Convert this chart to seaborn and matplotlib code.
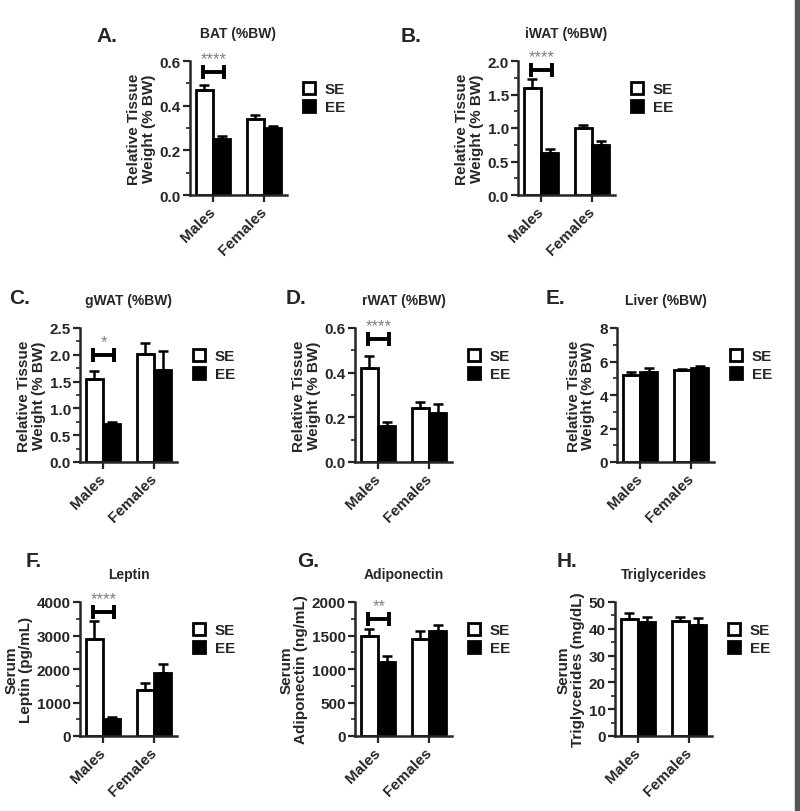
import numpy as np
import matplotlib
matplotlib.use("Agg")
import matplotlib.pyplot as plt
from matplotlib.lines import Line2D
from matplotlib.patches import Rectangle
from matplotlib.ticker import MultipleLocator
import seaborn as sns
import pandas as pd

sexes = ["Males", "Females"]
housing = ["SE", "EE"]

# group means (Males, Females) and SEM
bat_se, bat_ee = [0.47, 0.34], [0.25, 0.30]
bat_se_sem, bat_ee_sem = [0.022, 0.016], [0.016, 0.011]

iwat_se, iwat_ee = [1.60, 1.00], [0.62, 0.74]
iwat_se_sem, iwat_ee_sem = [0.13, 0.05], [0.06, 0.07]

gwat_se, gwat_ee = [1.55, 2.02], [0.70, 1.72]
gwat_se_sem, gwat_ee_sem = [0.15, 0.20], [0.04, 0.35]

rwat_se, rwat_ee = [0.42, 0.24], [0.16, 0.22]
rwat_se_sem, rwat_ee_sem = [0.055, 0.03], [0.018, 0.04]

liver_se, liver_ee = [5.2, 5.5], [5.4, 5.6]
liver_se_sem, liver_ee_sem = [0.2, 0.07], [0.2, 0.15]

leptin_se, leptin_ee = [2900, 1380], [500, 1880]
leptin_se_sem, leptin_ee_sem = [540, 190], [80, 270]

adipo_se, adipo_ee = [1500, 1450], [1100, 1560]
adipo_se_sem, adipo_ee_sem = [100, 110], [100, 100]

tg_se, tg_ee = [43.5, 43.0], [42.5, 41.5]
tg_se_sem, tg_ee_sem = [2.5, 1.5], [2.0, 2.5]

tissue_label = "Relative Tissue\nWeight (% BW)"

# letter, title, ylabel, data, ymax, major step, stars, bracket y, axes box (px: left, top), letter pos
panels = [
    ("A.", "BAT (%BW)", tissue_label, (bat_se, bat_ee, bat_se_sem, bat_ee_sem), 0.6, 0.2, "****", 0.55, (190, 62), (96, 36)),
    ("B.", "iWAT (%BW)", tissue_label, (iwat_se, iwat_ee, iwat_se_sem, iwat_ee_sem), 2.0, 0.5, "****", 1.86, (518, 62), (401, 36)),
    ("C.", "gWAT (%BW)", tissue_label, (gwat_se, gwat_ee, gwat_se_sem, gwat_ee_sem), 2.5, 0.5, "*", 2.0, (80, 329), (9, 298)),
    ("D.", "rWAT (%BW)", tissue_label, (rwat_se, rwat_ee, rwat_se_sem, rwat_ee_sem), 0.6, 0.2, "****", 0.55, (355, 329), (286, 298)),
    ("E.", "Liver (%BW)", tissue_label, (liver_se, liver_ee, liver_se_sem, liver_ee_sem), 8, 2, None, None, (617, 329), (546, 298)),
    ("F.", "Leptin", "Serum\nLeptin (pg/mL)", (leptin_se, leptin_ee, leptin_se_sem, leptin_ee_sem), 4000, 1000, "****", 3700, (80, 603), (26, 562)),
    ("G.", "Adiponectin", "Serum\nAdiponectin (ng/mL)", (adipo_se, adipo_ee, adipo_se_sem, adipo_ee_sem), 2000, 500, "**", 1750, (355, 603), (297, 562)),
    ("H.", "Triglycerides", "Serum\nTriglycerides (mg/dL)", (tg_se, tg_ee, tg_se_sem, tg_ee_sem), 50, 10, None, None, (615, 603), (557, 562)),
]

sns.set_style("ticks")
plt.rcParams["font.family"] = ["Liberation Sans", "DejaVu Sans"]

W, H = 800, 812
AX_W, AX_H = 97, 134
fig = plt.figure(figsize=(8, 8.12), dpi=100)

for letter, title, ylabel, (se, ee, se_sem, ee_sem), ymax, step, stars, by, (lx, ty), (px, py) in panels:
    ax = fig.add_axes([lx / W, 1 - (ty + AX_H) / H, AX_W / W, AX_H / H])
    df = pd.DataFrame({
        "Sex": sexes * 2,
        "Housing": ["SE"] * 2 + ["EE"] * 2,
        "Value": list(se) + list(ee),
    })
    sns.barplot(data=df, x="Sex", y="Value", hue="Housing", order=sexes, hue_order=housing,
                palette={"SE": "white", "EE": "black"}, saturation=1, edgecolor="black",
                linewidth=2, width=0.68, errorbar=None, legend=False, ax=ax)

    centers = []
    for cont, sem in zip(ax.containers, [se_sem, ee_sem]):
        xs = [b.get_x() + b.get_width() / 2 for b in cont]
        ys = [b.get_height() for b in cont]
        centers.append(xs)
        ax.errorbar(xs, ys, yerr=[np.zeros(len(sem)), sem], fmt="none", ecolor="black",
                    elinewidth=1.8, capsize=3.5, capthick=1.8, zorder=3)

    if stars:
        x1, x2 = centers[0][0] - 0.02, centers[1][0] + 0.05
        ax.plot([x1, x2], [by, by], color="black", lw=2.8, clip_on=False, zorder=4)
        ax.plot([x1, x2], [by, by], linestyle="none", marker="|", markersize=10,
                markeredgewidth=2.8, color="black", clip_on=False, zorder=4)
        ax.text((x1 + x2) / 2, by + ymax * 0.045, stars, ha="center", va="bottom",
                fontsize=12, color="#808080")

    ax.set_xlim(-0.45, 1.45)
    ax.set_ylim(0, ymax)
    ax.yaxis.set_major_locator(MultipleLocator(step))
    ax.yaxis.set_minor_locator(MultipleLocator(step / 2))
    sns.despine(ax=ax)
    for sp in ["left", "bottom"]:
        ax.spines[sp].set_linewidth(1.8)
    ax.tick_params(axis="both", which="major", length=5, width=1.6, labelsize=11)
    ax.tick_params(axis="y", which="major", pad=1.5)
    ax.tick_params(axis="y", which="minor", length=3, width=1.2)
    for lab in ax.get_yticklabels():
        lab.set_fontweight("bold")
    ax.set_xticks([0, 1])
    ax.set_xticklabels(sexes, rotation=45, ha="right", va="center", rotation_mode="anchor",
                       fontweight="bold", fontsize=11)
    ax.tick_params(axis="x", pad=5)
    ax.set_xlabel("")
    ax.set_ylabel(ylabel, fontweight="bold", fontsize=11, linespacing=1.05, labelpad=3)

    handles = [Line2D([], [], marker="s", linestyle="none", markerfacecolor=c,
                      markeredgecolor="black", markeredgewidth=2, markersize=8.5)
               for c in ["white", "black"]]
    ax.legend(handles, housing, loc="upper left", bbox_to_anchor=(1.09, 0.89), frameon=False,
              handletextpad=0.5, labelspacing=0.3, handlelength=1, borderaxespad=0,
              prop={"weight": "bold", "size": 11})

    fig.text((lx + AX_W / 2) / W, 1 - (ty - 28) / H, title, ha="center", va="center",
             fontsize=10, fontweight="bold")
    fig.text(px / W, 1 - py / H, letter, ha="left", va="center", fontsize=15, fontweight="bold")

# dark strip on the right edge of the page
fig.patches.append(Rectangle((795 / W, 0), 5 / W, 1, transform=fig.transFigure,
                             color="#555555", zorder=10))

fig.savefig("out.png", dpi=100)
